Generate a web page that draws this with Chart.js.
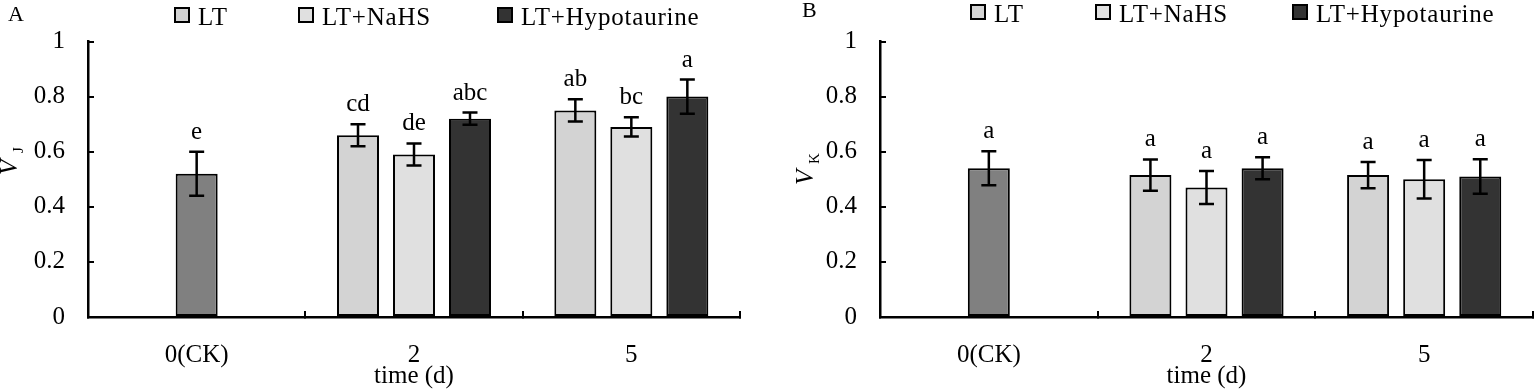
<!DOCTYPE html>
<html><head><meta charset="utf-8">
<script src="https://cdn.jsdelivr.net/npm/chart.js@4.4.1/dist/chart.umd.min.js"></script>
<style>
html,body{margin:0;padding:0;background:#fff;}
#wrap{position:relative;width:1535px;height:391px;background:#fff;}
canvas{position:absolute;top:0;}
</style></head><body>
<div id="wrap">
<canvas id="cA" width="767" height="391" style="left:0"></canvas>
<canvas id="cB" width="768" height="391" style="left:767px"></canvas>
</div>
<script>
// ---------- data ----------
const categories = ['0(CK)', '2', '5'];
const seriesNames = ['CK', 'LT', 'LT+NaHS', 'LT+Hypotaurine'];
const yTicks = [0, 0.2, 0.4, 0.6, 0.8, 1];
const yTickLabels = ['0', '0.2', '0.4', '0.6', '0.8', '1'];
const xTitle = 'time (d)';

// Panel A : V_J
const vjCK    = [0.52, null, null];
const vjLT    = [null, 0.66, 0.75];
const vjNaHS  = [null, 0.59, 0.69];
const vjHypo  = [null, 0.72, 0.80];
const vjCKErr   = [0.08, null, null];
const vjLTErr   = [null, 0.04, 0.04];
const vjNaHSErr = [null, 0.04, 0.035];
const vjHypoErr = [null, 0.022, 0.062];
const vjCKSig   = ['e', null, null];
const vjLTSig   = [null, 'cd', 'ab'];
const vjNaHSSig = [null, 'de', 'bc'];
const vjHypoSig = [null, 'abc', 'a'];

// Panel B : V_K
const vkCK    = [0.54, null, null];
const vkLT    = [null, 0.515, 0.515];
const vkNaHS  = [null, 0.47, 0.50];
const vkHypo  = [null, 0.54, 0.51];
const vkCKErr   = [0.062, null, null];
const vkLTErr   = [null, 0.057, 0.048];
const vkNaHSErr = [null, 0.06, 0.07];
const vkHypoErr = [null, 0.04, 0.063];
const vkCKSig   = ['a', null, null];
const vkLTSig   = [null, 'a', 'a'];
const vkNaHSSig = [null, 'a', 'a'];
const vkHypoSig = [null, 'a', 'a'];

// ---------- styling ----------
const FF = '"Liberation Serif", "Times New Roman", Times, serif';
Chart.defaults.font.family = FF;
Chart.defaults.font.size = 25;
Chart.defaults.color = '#000';
const fills = ['#808080', '#d3d3d3', '#e0e0e0', '#333333'];

function buildDatasets(vals, errs, sigs) {
  return seriesNames.map((name, k) => ({
    label: name,
    data: vals[k],
    errors: errs[k],
    sigs: sigs[k],
    inLegend: k > 0,
    backgroundColor: fills[k],
    borderColor: '#000',
    borderWidth: 2,
    borderSkipped: false
  }));
}

const deco = {
  id: 'deco',
  afterDatasetsDraw(chart) {
    const ctx = chart.ctx, ys = chart.scales.y;
    ctx.save();
    ctx.strokeStyle = '#000'; ctx.fillStyle = '#000'; ctx.lineWidth = 2.5;
    ctx.font = '25px ' + FF; ctx.textAlign = 'center'; ctx.textBaseline = 'alphabetic';
    chart.data.datasets.forEach((ds, i) => {
      const meta = chart.getDatasetMeta(i);
      ds.data.forEach((v, j) => {
        if (v == null) return;
        const bar = meta.data[j], e = ds.errors[j];
        const x = bar.x;
        const yt = ys.getPixelForValue(v + e), yb = ys.getPixelForValue(v - e);
        ctx.beginPath();
        ctx.moveTo(x, yt); ctx.lineTo(x, yb);
        ctx.moveTo(x - 7.5, yt); ctx.lineTo(x + 7.5, yt);
        ctx.moveTo(x - 7.5, yb); ctx.lineTo(x + 7.5, yb);
        ctx.stroke();
        if (ds.sigs[j]) ctx.fillText(ds.sigs[j], x, yt - 13);
      });
    });
    ctx.restore();
  },
  afterDraw(chart, args, o) {
    const ctx = chart.ctx, ca = chart.chartArea;
    ctx.save();
    // legend
    ctx.textAlign = 'left'; ctx.textBaseline = 'alphabetic';
    ctx.font = '25px ' + FF;
    if ('letterSpacing' in ctx) ctx.letterSpacing = '0.8px';
    let n = 0;
    chart.data.datasets.forEach(ds => {
      if (!ds.inLegend) return;
      const bx = ca.left + o.legendOffsets[n++];
      ctx.fillStyle = ds.backgroundColor;
      ctx.fillRect(bx, o.boxTop, 16, 16);
      ctx.strokeStyle = '#000'; ctx.lineWidth = 2;
      ctx.strokeRect(bx + 1, o.boxTop + 1, 14, 14);
      ctx.fillStyle = '#000';
      ctx.fillText(ds.label, bx + 24, o.legendBase);
    });
    if ('letterSpacing' in ctx) ctx.letterSpacing = '0px';
    // panel letter
    ctx.font = '22px ' + FF;
    ctx.fillText(o.panel, o.panelX, o.panelY);
    // y-axis title, rotated, V with subscript
    ctx.translate(o.titleX, o.titleY);
    ctx.rotate(-Math.PI / 2);
    ctx.font = 'italic 25px ' + FF;
    ctx.fillText('V', 0, 0);
    ctx.font = '15px ' + FF;
    ctx.fillText(o.sub, o.subDx, 6);
    ctx.restore();
  }
};

function makeChart(id, vals, errs, sigs, cfg) {
  return new Chart(document.getElementById(id), {
    type: 'bar',
    data: { labels: categories, datasets: buildDatasets(vals, errs, sigs) },
    plugins: [deco],
    options: {
      responsive: false,
      animation: false,
      devicePixelRatio: 1,
      skipNull: true,
      categoryPercentage: 0.773,
      barPercentage: 0.75,
      maxBarThickness: 42,
      layout: { padding: { left: 0, right: cfg.padRight, top: cfg.padTop, bottom: 0 } },
      plugins: {
        legend: { display: false },
        tooltip: { enabled: false },
        deco: cfg.deco
      },
      scales: {
        x: {
          grid: { display: true, offset: true, drawOnChartArea: false, drawTicks: true,
                  tickLength: -6, color: '#000', lineWidth: 2 },
          border: { display: true, color: '#000', width: 2.5 },
          ticks: { padding: 29, font: { size: 25, lineHeight: 1.2 }, maxRotation: 0 },
          title: { display: true, text: xTitle, font: { size: 25, lineHeight: 1 },
                   padding: { top: 0, bottom: 2 } },
          afterFit: s => { s.height = 74; }
        },
        y: {
          min: 0, max: 1,
          afterBuildTicks: s => { s.ticks = yTicks.map(v => ({ value: v })); },
          grid: { display: true, drawOnChartArea: false, drawTicks: true,
                  tickLength: -6, color: '#000', lineWidth: 2 },
          border: { display: true, color: '#000', width: 2.5 },
          ticks: { padding: 29, font: { size: 25, lineHeight: 1 },
                   callback: (v, i) => yTickLabels[i] },
          afterFit: s => { s.width = cfg.yWidth; }
        }
      }
    }
  });
}

makeChart('cA',
  [vjCK, vjLT, vjNaHS, vjHypo],
  [vjCKErr, vjLTErr, vjNaHSErr, vjHypoErr],
  [vjCKSig, vjLTSig, vjNaHSSig, vjHypoSig],
  { padRight: 27, padTop: 15, yWidth: 88,
    deco: { legendOffsets: [86, 210, 409], boxTop: 7, legendBase: 25,
            panel: 'A', panelX: 8, panelY: 21,
            titleX: 17, titleY: 175, sub: 'J', subDx: 22 } });

makeChart('cB',
  [vkCK, vkLT, vkNaHS, vkHypo],
  [vkCKErr, vkLTErr, vkNaHSErr, vkHypoErr],
  [vkCKSig, vkLTSig, vkNaHSSig, vkHypoSig],
  { padRight: 2, padTop: 14, yWidth: 113,
    deco: { legendOffsets: [90, 215, 412], boxTop: 4, legendBase: 22,
            panel: 'B', panelX: 35, panelY: 17,
            titleX: 46, titleY: 185, sub: 'K', subDx: 21 } });
</script>
</body></html>
